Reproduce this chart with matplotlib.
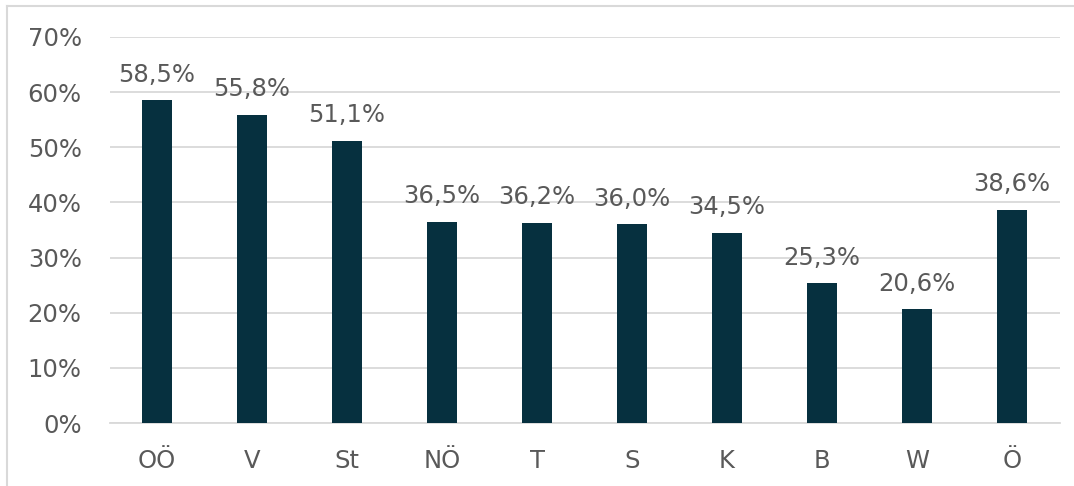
import matplotlib.pyplot as plt
from matplotlib.lines import Line2D

# data
regions = ['OÖ', 'V', 'St', 'NÖ', 'T', 'S', 'K', 'B', 'W', 'Ö']
shares = [58.5, 55.8, 51.1, 36.5, 36.2, 36.0, 34.5, 25.3, 20.6, 38.6]
yticks = [0, 10, 20, 30, 40, 50, 60, 70]

bar_col = '#06303f'
txt_col = '#595959'
grid_col = '#d9d9d9'

plt.rcParams['font.family'] = ['DejaVu Sans']

fig = plt.figure(figsize=(10.74, 4.86), dpi=100)
ax = fig.add_axes([109.5 / 1074, 1 - 423 / 486, 950 / 1074, 386 / 486])

x = list(range(len(regions)))
bars = ax.bar(x, shares, width=0.31, color=bar_col, zorder=3)

for xi, v in zip(x, shares):
    lbl = ('%.1f%%' % v).replace('.', ',')
    ax.annotate(lbl, (xi, v), xytext=(0, 10), textcoords='offset points',
                ha='center', va='bottom', fontsize=17.5, color=txt_col)

ax.set_xlim(-0.5, len(regions) - 0.5)
ax.set_ylim(0, 70)
ax.set_yticks(yticks)
ax.set_yticklabels(['%d%%' % t for t in yticks])
ax.set_xticks(x)
ax.set_xticklabels(regions)

ax.yaxis.grid(True, color=grid_col, linewidth=1.3, zorder=0)
ax.tick_params(axis='both', length=0, labelsize=17.5, labelcolor=txt_col)
ax.tick_params(axis='y', pad=20)
ax.tick_params(axis='x', pad=19)
for side in ['top', 'right', 'left']:
    ax.spines[side].set_visible(False)
ax.spines['bottom'].set_color(grid_col)
ax.spines['bottom'].set_linewidth(1.3)

# outer chart border: only left and top edges are visible in the original
bx = 7.5 / 1074
by = 1 - 6 / 486
fig.lines.append(Line2D([bx, bx], [0, by], transform=fig.transFigure,
                        color=grid_col, linewidth=1.5))
fig.lines.append(Line2D([bx, 1], [by, by], transform=fig.transFigure,
                        color=grid_col, linewidth=1.5))

fig.savefig('out.png', dpi=100)
